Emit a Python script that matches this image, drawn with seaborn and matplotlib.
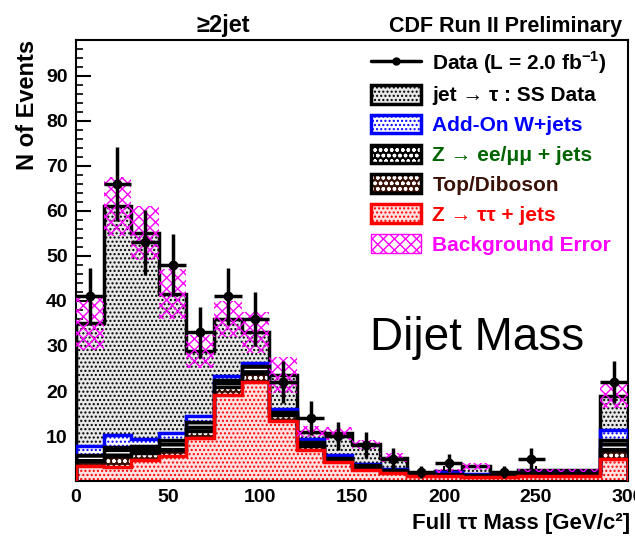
import numpy as np
import matplotlib
matplotlib.use("Agg")
import matplotlib.pyplot as plt
from matplotlib.lines import Line2D
from matplotlib.patches import Patch
from matplotlib.ticker import MultipleLocator
import seaborn as sns

# -------------------------------------------------------- data
# 15 GeV bins from 0 to 300 (last bin holds overflow)
bin_edges = list(range(0, 301, 15))
bin_centers = [e + 7.5 for e in bin_edges[:-1]]

ztautau     = [3.3, 3.2, 4.7, 5.6, 9.6, 19.2, 22.1, 13.4, 7.0, 4.2,
               2.5, 1.8, 1.2, 1.2, 1.0, 1.0, 1.2, 1.2, 1.2, 5.0]
top_diboson = [1.2, 2.4, 1.5, 1.4, 1.6, 1.6, 1.8, 1.2, 0.8, 0.5,
               0.5, 0.3, 0.2, 0.2, 0.2, 0.2, 0.2, 0.2, 0.2, 2.0]
zll         = [1.3, 2.0, 1.6, 2.2, 2.0, 1.6, 1.6, 0.8, 0.9, 0.5,
               0.5, 0.3, 0.2, 0.2, 0.2, 0.2, 0.3, 0.3, 0.3, 2.1]
wjets       = [2.0, 2.6, 1.6, 1.4, 1.2, 0.9, 0.8, 0.7, 0.7, 0.6,
               0.3, 0.2, 0.1, 0.5, 0.1, 0.1, 0.1, 0.1, 0.1, 2.2]
jet_fake    = [27.2, 50.8, 45.8, 30.9, 14.4, 12.7, 6.7, 7.4, 1.6, 4.8,
               4.4, 2.6, 0.1, 0.1, 1.8, 0.3, 0.6, 0.6, 0.6, 7.7]
bkg_err     = [6.0, 6.5, 6.0, 5.5, 3.7, 4.0, 4.5, 4.0, 1.2, 1.5,
               1.0, 1.0, 0.3, 0.4, 0.8, 0.3, 0.3, 0.3, 0.3, 2.8]
data_counts = [41, 66, 53, 48, 33, 41, 36, 22, 14, 10,
               8, 5, 2, 4, 0, 2, 5, 0, 0, 22]

legend_labels = ["Data (L = 2.0 fb$^{\\mathbf{-1}}$)", "jet \u2192 \u03c4 : SS Data",
                 "Add-On W+jets", "Z \u2192 ee/\u03bc\u03bc + jets", "Top/Diboson",
                 "Z \u2192 \u03c4\u03c4 + jets", "Background Error"]

# -------------------------------------------------------- style
sns.set_theme(style="ticks")
plt.rcParams["font.family"] = ["Liberation Sans", "DejaVu Sans"]
plt.rcParams["mathtext.fontset"] = "custom"
plt.rcParams["mathtext.bf"] = "Liberation Sans:bold"
plt.rcParams["hatch.linewidth"] = 1.0
plt.rcParams["xtick.direction"] = "in"
plt.rcParams["ytick.direction"] = "in"
for k in ["text.color", "axes.labelcolor", "xtick.color", "ytick.color", "axes.edgecolor"]:
    plt.rcParams[k] = "black"

RED, BLUE, BROWN, GREEN, MAGENTA = "#ff0000", "#0000ff", "#3a1208", "#006400", "#ff00ff"

fig = plt.figure(figsize=(6.35, 5.44), dpi=100)
ax = fig.add_axes([0.1197, 0.1158, 0.8693, 0.8107])

# cumulative stack, bottom -> top
c_ztt = np.array(ztautau)
c_top = c_ztt + np.array(top_diboson)
c_zll = c_top + np.array(zll)
c_w = c_zll + np.array(wjets)
c_all = c_w + np.array(jet_fake)

# draw tallest first so lower components paint over it
layers = [
    (c_all, "#e8e8e8", "black", "....", "black"),
    (c_w,   "white",   BLUE,    "....", BLUE),
    (c_zll, "black",   "white", "---",  "black"),
    (c_top, BROWN,     "white", "ooo",  "black"),
    (c_ztt, "#ffe0e0", RED,     "....", RED),
]
for cum, fc, hc, hatch, lc in layers:
    sns.histplot(x=bin_centers, weights=cum, bins=bin_edges, element="bars",
                 fill=True, facecolor=fc, edgecolor=hc, hatch=hatch,
                 linewidth=0, alpha=1, ax=ax)
for cum, fc, hc, hatch, lc in layers:
    ax.stairs(cum, bin_edges, color=lc, linewidth=2.5, zorder=3)

# background error band
widths = np.diff(bin_edges)
ax.bar(bin_edges[:-1], 2 * np.array(bkg_err), width=widths, align="edge",
       bottom=c_all - np.array(bkg_err), facecolor="none", edgecolor=MAGENTA,
       hatch="xxx", linewidth=0, zorder=4)

# data points
d = np.array(data_counts, dtype=float)
mask = d > 0
ax.errorbar(np.array(bin_centers)[mask], d[mask], yerr=np.sqrt(d[mask]),
            xerr=7.5, fmt="o", color="black", markersize=6, elinewidth=2.5,
            capsize=0, zorder=6)

# axes
ax.set_xlim(0, 300)
ax.set_ylim(0, 98)
ax.xaxis.set_major_locator(MultipleLocator(50))
ax.xaxis.set_minor_locator(MultipleLocator(10))
ax.yaxis.set_major_locator(MultipleLocator(10))
ax.yaxis.set_minor_locator(MultipleLocator(2))
ax.set_yticks(range(10, 91, 10))
ax.tick_params(which="major", length=11, width=1.5, labelsize=14, pad=6)
ax.tick_params(which="minor", length=5, width=1.2)
for lab in ax.get_xticklabels() + ax.get_yticklabels():
    lab.set_fontweight("bold")
for sp in ax.spines.values():
    sp.set_linewidth(1.5)
    sp.set_visible(True)
ax.set_xlabel("")
ax.set_ylabel("")

# texts
fig.text(0.309, 0.942, "\u22652jet", fontsize=17, fontweight="bold")
fig.text(0.98, 0.942, "CDF Run II Preliminary", fontsize=15.5, fontweight="bold", ha="right")
fig.text(0.044, 0.926, "N of Events", fontsize=17, fontweight="bold",
         rotation=90, ha="center", va="top")
fig.text(0.992, 0.028, "Full \u03c4\u03c4 Mass [GeV/c\u00b2]", fontsize=16,
         fontweight="bold", ha="right")
fig.text(0.583, 0.357, "Dijet Mass", fontsize=33)

# legend
handles = [
    Line2D([], [], color="black", marker="o", markersize=5, linewidth=2.5),
    (Patch(facecolor="#e8e8e8", edgecolor="black", hatch="....", linewidth=0),
     Patch(facecolor="none", edgecolor="black", linewidth=2.5)),
    (Patch(facecolor="white", edgecolor=BLUE, hatch="....", linewidth=0),
     Patch(facecolor="none", edgecolor=BLUE, linewidth=2.5)),
    (Patch(facecolor="black", edgecolor="white", hatch="ooo", linewidth=0),
     Patch(facecolor="none", edgecolor="black", linewidth=2.5)),
    (Patch(facecolor=BROWN, edgecolor="white", hatch="ooo", linewidth=0),
     Patch(facecolor="none", edgecolor="black", linewidth=2.5)),
    (Patch(facecolor="#ffe0e0", edgecolor=RED, hatch="....", linewidth=0),
     Patch(facecolor="none", edgecolor=RED, linewidth=2.5)),
    (Patch(facecolor="white", edgecolor=MAGENTA, hatch="xxx", linewidth=0),
     Patch(facecolor="none", edgecolor=MAGENTA, linewidth=1)),
]
leg = fig.legend(handles, legend_labels, loc="upper left",
                 bbox_to_anchor=(0.584, 0.91), frameon=False,
                 prop={"weight": "bold", "size": 15}, handlelength=2.4,
                 handleheight=1.0, labelspacing=0.45, handletextpad=0.55,
                 borderpad=0, borderaxespad=0,
                 labelcolor=["black", "black", BLUE, GREEN, BROWN, RED, MAGENTA])

fig.savefig("out.png", dpi=100)
